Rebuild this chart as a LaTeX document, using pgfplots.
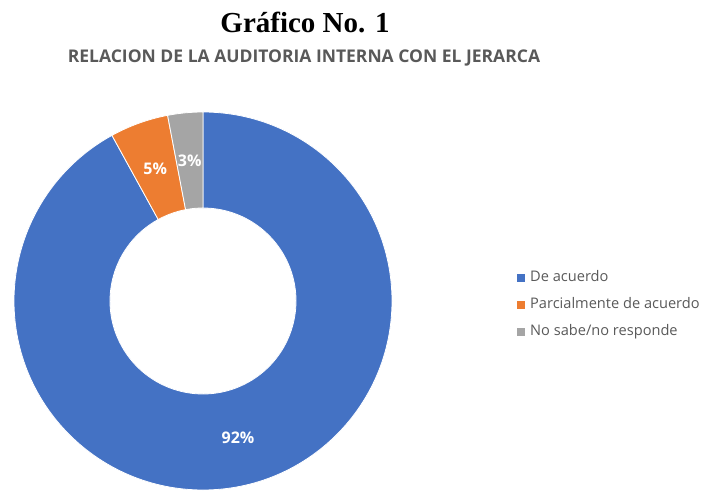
\documentclass[border=0pt]{standalone}
\usepackage{fontspec}
\setmainfont{Liberation Serif}
\newfontfamily\osans{Open Sans}
\usepackage{pgfplots}
\usepackage{pgfplotstable}
\pgfplotsset{compat=1.18}

\definecolor{cblue}{HTML}{4472C4}
\definecolor{corange}{HTML}{ED7D31}
\definecolor{cgray}{HTML}{A5A5A5}
\definecolor{txtgray}{HTML}{595959}

% percentages, clockwise from the top
\pgfplotstableread[col sep=comma]{
value,label
92,De acuerdo
5,Parcialmente de acuerdo
3,No sabe/no responde
}\donut

\pgfplotstablegetelem{0}{value}\of\donut \let\vA\pgfplotsretval
\pgfplotstablegetelem{1}{value}\of\donut \let\vB\pgfplotsretval
\pgfplotstablegetelem{2}{value}\of\donut \let\vC\pgfplotsretval
\pgfmathsetmacro\sA{90}
\pgfmathsetmacro\eA{\sA-3.6*\vA}
\pgfmathsetmacro\eB{\eA-3.6*\vB}
\pgfmathsetmacro\eC{\eB-3.6*\vC}
\pgfmathsetmacro\mA{(\sA+\eA)/2}
\pgfmathsetmacro\mB{(\eA+\eB)/2}
\pgfmathsetmacro\mC{(\eB+\eC)/2}

\def\Ro{189bp}
\def\Ri{93bp}
\def\Rm{141bp}
\newcommand\slice[3]{%
  \fill[#1,draw=white,line width=0.8bp]
    ([shift={(#2:\Ro)}]axis cs:0,0) arc[start angle=#2,end angle=#3,radius=\Ro]
    -- ([shift={(#3:\Ri)}]axis cs:0,0) arc[start angle=#3,end angle=#2,radius=\Ri]
    -- cycle;}
\newcommand\plabel[2]{%
  \node[text=white,font=\osans\bfseries\fontsize{16bp}{18bp}\selectfont]
    at ([shift={(#1:\Rm)}]axis cs:0,0) {#2\%};}

\begin{document}
\begin{tikzpicture}
\useasboundingbox (0,0) rectangle (704bp,491bp);
\node[anchor=base] at (305bp,458bp)
  {\fontsize{29bp}{33bp}\selectfont\bfseries Gráfico No. 1};
\node[anchor=base,text=txtgray] at (304bp,428bp)
  {\osans\bfseries\fontsize{17.5bp}{20bp}\selectfont RELACION DE LA AUDITORIA INTERNA CON EL JERARCA};
\begin{axis}[
    at={(203bp,190bp)}, anchor=origin,
    x=1bp, y=1bp,
    xmin=-200, xmax=200, ymin=-200, ymax=200,
    hide axis, clip=false,
    legend image code/.code={\fill[#1,draw=none] (0bp,-4bp) rectangle (8bp,4bp);},
    legend cell align=left,
    legend style={at={(axis cs:314,-4)}, anchor=west, draw=none, fill=none,
      inner sep=0pt, row sep=10.5bp, column sep=4bp,
      font=\osans\fontsize{14.6bp}{17bp}\selectfont, text=txtgray,
      nodes={inner sep=1bp, text height=11bp, text depth=3.5bp}},
  ]
  \slice{cblue}{\sA}{\eA}
  \slice{corange}{\eA}{\eB}
  \slice{cgray}{\eB}{\eC}
  \plabel{\mA}{\vA}
  \plabel{\mB}{\vB}
  \plabel{\mC}{\vC}
  \addlegendimage{fill=cblue,draw=none}
  \addlegendentry{De acuerdo}
  \addlegendimage{fill=corange,draw=none}
  \addlegendentry{Parcialmente de acuerdo}
  \addlegendimage{fill=cgray,draw=none}
  \addlegendentry{No sabe/no responde}
\end{axis}
\end{tikzpicture}
\end{document}
